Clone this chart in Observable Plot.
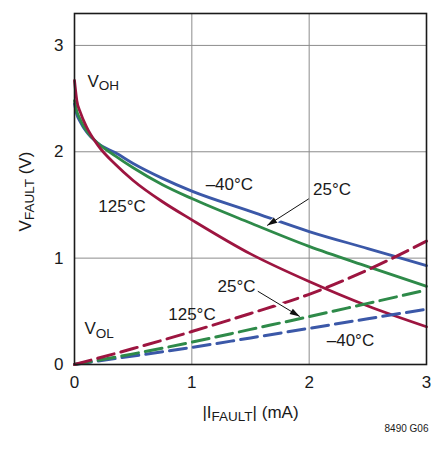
<!DOCTYPE html>
<html>
<head>
<meta charset="utf-8">
<script src="https://cdn.jsdelivr.net/npm/d3@7"></script>
<script src="https://cdn.jsdelivr.net/npm/@observablehq/plot@0.6"></script>
<style>
  html, body { margin: 0; padding: 0; background: #fff; }
  #chart svg { display: block; }
</style>
</head>
<body>
<div id="chart"></div>
<script>
// Fault pin output voltage versus fault current, three temperatures.
const temps = ["–40°C", "25°C", "125°C"];
const colors = ["#3b58a8", "#2e8a49", "#9d1540"];

// V_OH (pin sourcing current), solid curves
const ohCurrent = [0, 0.02, 0.05, 0.1, 0.2, 0.35, 0.5, 0.75, 1, 1.5, 2, 2.5, 3];
const ohMinus40 = [2.45, 2.35, 2.28, 2.19, 2.08, 1.99, 1.89, 1.75, 1.63, 1.44, 1.25, 1.09, 0.93];
const ohPlus25  = [2.48, 2.38, 2.30, 2.20, 2.08, 1.96, 1.85, 1.69, 1.56, 1.33, 1.11, 0.92, 0.735];
const ohPlus125 = [2.67, 2.48, 2.37, 2.24, 2.06, 1.88, 1.73, 1.53, 1.36, 1.04, 0.78, 0.55, 0.355];

// V_OL (pin sinking current), dashed curves
const olCurrent = [0, 0.5, 1, 1.5, 2, 2.5, 3];
const olMinus40 = [0, 0.08, 0.16, 0.25, 0.34, 0.43, 0.52];
const olPlus25  = [0, 0.10, 0.21, 0.33, 0.45, 0.575, 0.70];
const olPlus125 = [0, 0.15, 0.31, 0.48, 0.66, 0.89, 1.16];

const xTicks = [0, 1, 2, 3];
const yTicks = [0, 1, 2, 3];

// Temperature labels placed next to their curves (data coordinates)
const labelText = ["–40°C", "25°C", "125°C", "25°C", "125°C", "–40°C"];
const labelX = [1.32, 2.195, 0.405, 1.381, 1.001, 2.352];
const labelY = [1.692, 1.645, 1.481, 0.733, 0.470, 0.221];

// Leader arrows from the two "25°C" labels to their curves
const arrowX1 = [1.997, 1.562];
const arrowY1 = [1.558, 0.689];
const arrowX2 = [1.642, 1.920];
const arrowY2 = [1.307, 0.451];
// portion of each arrow shaft that gets a white knockout where it crosses a curve
const knockout = [[0.55, 0.88], [0.4, 0.72]];

const font = '"Liberation Sans", Arial, sans-serif';
const labelSize = 17;
const subSize = 13.5;

const toRows = (xs, series) => series.flatMap((ys, i) => xs.map((x, j) => ({x, v: ys[j], t: temps[i]})));
const ohRows = toRows(ohCurrent, [ohMinus40, ohPlus25, ohPlus125]);
const olRows = toRows(olCurrent, [olMinus40, olPlus25, olPlus125]);
const labels = labelText.map((text, i) => ({text, x: labelX[i], y: labelY[i]}));
const arrows = arrowX1.map((x1, i) => ({x1, y1: arrowY1[i], x2: arrowX2[i], y2: arrowY2[i]}));
const lerp = (a, b, t) => a + (b - a) * t;
const halos = arrows.map((a, i) => ({
  x1: lerp(a.x1, a.x2, knockout[i][0]), y1: lerp(a.y1, a.y2, knockout[i][0]),
  x2: lerp(a.x1, a.x2, knockout[i][1]), y2: lerp(a.y1, a.y2, knockout[i][1])
}));

const base = {
  width: 441,
  height: 453,
  marginLeft: 74,
  marginRight: 15,
  marginTop: 13,
  marginBottom: 89,
  style: {fontFamily: font, fontSize: "16px", color: "#1a1a1a", background: "#fff"},
  x: {domain: [0, 3]},
  y: {domain: [0, 3.3]},
  color: {domain: temps, range: colors}
};

// scales are needed to orient the arrowheads in screen space
const probe = Plot.plot({...base, marks: [Plot.frame()]});
const sx = probe.scale("x"), sy = probe.scale("y");
const headAngle = (d) => {
  const dx = sx.apply(d.x2) - sx.apply(d.x1);
  const dy = sy.apply(d.y2) - sy.apply(d.y1);
  return Math.atan2(dx, -dy) * 180 / Math.PI;
};

const chart = Plot.plot({
  ...base,
  marks: [
    Plot.gridX([1, 2], {stroke: "#8c8c8c", strokeOpacity: 1, strokeWidth: 1}),
    Plot.gridY([1, 2, 3], {stroke: "#8c8c8c", strokeOpacity: 1, strokeWidth: 1}),
    Plot.axisX(xTicks, {tickSize: 0, tickPadding: 11, fontSize: 17, tickFormat: d3.format("d"), label: null}),
    Plot.axisY(yTicks, {tickSize: 0, tickPadding: 11, fontSize: 17, tickFormat: d3.format("d"), label: null}),
    Plot.line(ohRows, {x: "x", y: "v", z: "t", stroke: "t", strokeWidth: 2.8, curve: "monotone-x"}),
    Plot.line(olRows, {x: "x", y: "v", z: "t", stroke: "t", strokeWidth: 3, strokeDasharray: "17,7", curve: "monotone-x"}),
    Plot.link(halos, {x1: "x1", y1: "y1", x2: "x2", y2: "y2", stroke: "#fff", strokeWidth: 6}),
    Plot.link(arrows, {x1: "x1", y1: "y1", x2: "x2", y2: "y2", stroke: "#111", strokeWidth: 1}),
    Plot.vector(arrows, {x: "x2", y: "y2", rotate: headAngle, length: 10, r: 3.2, anchor: "end", shape: "spike", fill: "#111", stroke: "none"}),
    Plot.text(labels, {x: "x", y: "y", text: "text", fontSize: labelSize, fill: "#1a1a1a"}),
    Plot.text(["V{OH}"], {x: 0.111, y: 2.661, textAnchor: "start", fontSize: labelSize, fill: "#1a1a1a"}),
    Plot.text(["V{OL}"], {x: 0.085, y: 0.338, textAnchor: "start", fontSize: labelSize, fill: "#1a1a1a"}),
    Plot.text(["V{FAULT} (V)"], {frameAnchor: "left", textAnchor: "middle", lineAnchor: "middle", dx: -49, dy: 2.5, rotate: -90, fontSize: labelSize, fill: "#1a1a1a"}),
    Plot.text(["|I{FAULT}| (mA)"], {frameAnchor: "bottom", textAnchor: "middle", lineAnchor: "middle", dy: 48, fontSize: labelSize, fill: "#1a1a1a"}),
    Plot.text(["8490 G06"], {frameAnchor: "bottom-right", textAnchor: "end", lineAnchor: "middle", dx: 2, dy: 64, fontSize: 10, fill: "#1a1a1a"}),
    Plot.frame({stroke: "#1a1a1a", strokeWidth: 1.6})
  ]
});

// turn {…} segments into subscripts
d3.select(chart).selectAll("text").each(function () {
  const s = this.textContent;
  if (!s.includes("{")) return;
  const el = d3.select(this).text(null);
  let lowered = false;
  for (const part of s.split(/(\{[^}]*\})/)) {
    if (!part) continue;
    if (part.startsWith("{")) {
      el.append("tspan").attr("font-size", subSize).attr("dy", 3.5).text(part.slice(1, -1));
      lowered = true;
    } else {
      const t = el.append("tspan").text(part);
      if (lowered) { t.attr("dy", -3.5); lowered = false; }
    }
  }
});

document.getElementById("chart").append(chart);
</script>
</body>
</html>
